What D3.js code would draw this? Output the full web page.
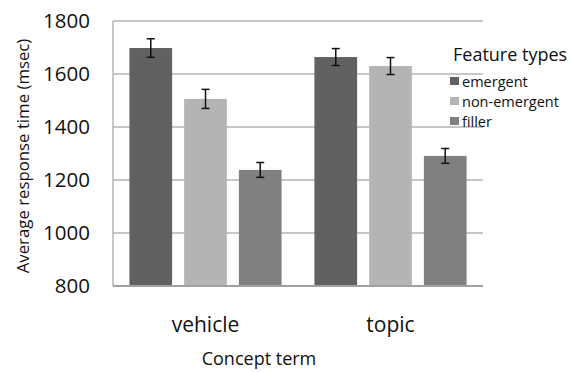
<!DOCTYPE html>
<html><head><meta charset="utf-8">
<script src="https://cdn.jsdelivr.net/npm/d3@7"></script>
<style>body{margin:0;background:#fff}svg{display:block;font-family:"Open Sans",sans-serif}</style>
</head><body>
<svg id="c" width="573" height="372"></svg>
<script>
const categories = ["vehicle", "topic"];
const seriesNames = ["emergent", "non-emergent", "filler"];
const seriesColors = ["#616161", "#b4b4b4", "#808080"];
const emergent = [1698, 1664];
const nonEmergent = [1506, 1630];
const filler = [1238, 1291];
const emergentErr = [35, 32];
const nonEmergentErr = [36, 32];
const fillerErr = [28, 28];
const yTicks = [800, 1000, 1200, 1400, 1600, 1800];

const values = [emergent, nonEmergent, filler];
const errs = [emergentErr, nonEmergentErr, fillerErr];

const svg = d3.select("#c");
const m = {l:113, r:483, t:21, b:286};
const x0 = d3.scaleBand().domain(categories).range([m.l, m.r]).paddingInner(0).paddingOuter(0);
const x1 = d3.scaleBand().domain(seriesNames).range([0, x0.bandwidth()]).paddingInner(0.22).paddingOuter(0.3);
const y = d3.scaleLinear().domain([800, 1800]).range([m.b, m.t]);

// gridlines
svg.append("g").selectAll("line").data(yTicks.filter(d=>d>800)).join("line")
  .attr("x1", m.l).attr("x2", m.r).attr("y1", d=>y(d)).attr("y2", d=>y(d))
  .attr("stroke", "#b3b3b3").attr("stroke-width", 1.5);

// bars
const groups = svg.append("g").selectAll("g").data(categories).join("g")
  .attr("transform", d=>`translate(${x0(d)},0)`);
groups.each(function(cat, ci){
  const g = d3.select(this);
  seriesNames.forEach((s, si)=>{
    const v = values[si][ci], e = errs[si][ci];
    const bx = x1(s), bw = x1.bandwidth();
    g.append("rect").attr("x", bx).attr("width", bw)
      .attr("y", y(v)).attr("height", y(800)-y(v)).attr("fill", seriesColors[si]);
    const cx = bx + bw/2;
    g.append("line").attr("x1", cx).attr("x2", cx).attr("y1", y(v+e)).attr("y2", y(v-e))
      .attr("stroke", "#111").attr("stroke-width", 1.5);
    [v+e, v-e].forEach(t=>g.append("line").attr("x1", cx-4).attr("x2", cx+4)
      .attr("y1", y(t)).attr("y2", y(t)).attr("stroke", "#111").attr("stroke-width", 1.5));
  });
});

// axes lines
svg.append("line").attr("x1", m.l).attr("x2", m.l).attr("y1", m.t).attr("y2", m.b)
  .attr("stroke", "#b3b3b3").attr("stroke-width", 1.5);
svg.append("line").attr("x1", m.l).attr("x2", m.r).attr("y1", m.b).attr("y2", m.b)
  .attr("stroke", "#a0a0a0").attr("stroke-width", 2);

// y axis labels
const yAxis = d3.axisLeft(y).tickValues(yTicks).tickFormat(d3.format("d")).tickSize(0).tickPadding(23);
const ya = svg.append("g").attr("transform", `translate(${m.l},0)`).call(yAxis);
ya.select(".domain").remove();
ya.selectAll("text").attr("font-size", 20.5).attr("fill", "#111").attr("font-family", "Open Sans");

// x axis labels
const xAxis = d3.axisBottom(x0).tickSize(0).tickPadding(31);
const xa = svg.append("g").attr("transform", `translate(0,${m.b})`).call(xAxis);
xa.select(".domain").remove();
xa.selectAll("text").attr("font-size", 21).attr("fill", "#111").attr("font-family", "Open Sans");

svg.append("text").attr("x", 259).attr("y", 359).attr("dy", "0.35em").attr("text-anchor", "middle")
  .attr("font-size", 18).attr("fill", "#111").text("Concept term");
svg.append("text").attr("transform", "translate(23,156) rotate(-90)").attr("dy", "0.35em")
  .attr("text-anchor", "middle").attr("font-size", 16.8).attr("fill", "#111").text("Average response time (msec)");

// legend
svg.append("text").attr("x", 453).attr("y", 55).attr("dy", "0.35em")
  .attr("font-size", 18).attr("fill", "#111").text("Feature types");
const lg = svg.append("g").selectAll("g").data(seriesNames).join("g")
  .attr("transform", (d,i)=>`translate(450,${82 + i*20})`);
lg.append("rect").attr("x", 0).attr("y", -5).attr("width", 9).attr("height", 8).attr("fill", (d,i)=>seriesColors[i]);
lg.append("text").attr("x", 12).attr("dy", "0.35em").attr("font-size", 14.5).attr("fill", "#111").text(d=>d);
</script>
</body></html>
